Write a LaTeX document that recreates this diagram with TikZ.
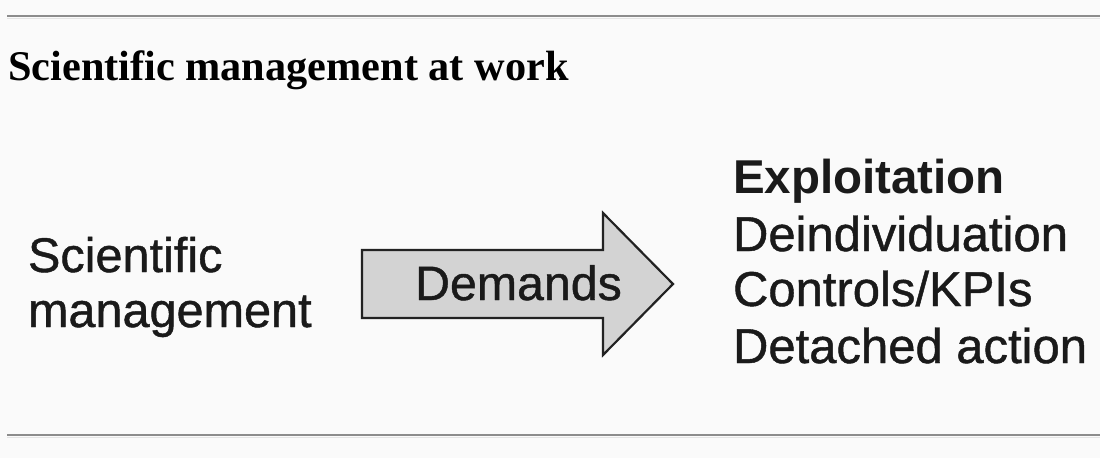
\documentclass[tikz,border=0pt]{standalone}
\usepackage{fontspec}
\setmainfont{Liberation Serif}
\setsansfont{Liberation Sans}
\newfontfamily\heavysans[FakeBold=0.9]{Liberation Sans}
\definecolor{bg}{HTML}{FAFAFA}
\definecolor{rule}{HTML}{8C8C8C}
\definecolor{rulelight}{HTML}{E4E4E4}
\definecolor{ink}{HTML}{1A1A1A}
\definecolor{arrowfill}{HTML}{D3D3D3}
\definecolor{arrowline}{HTML}{222222}
\begin{document}
\begin{tikzpicture}[x=1pt,y=-1pt,
  lbl/.style={inner sep=0pt, outer sep=0pt, text=ink, font=\heavysans\fontsize{49}{56}\selectfont, anchor=base west},
  bigarrow/.style={draw=arrowline, fill=arrowfill, line width=2.2pt, line join=miter},
  hrule/.style={draw=rule, line width=2pt},
  hrulelight/.style={draw=rulelight, line width=1pt}]
\fill[bg] (0,0) rectangle (1100,458);
\useasboundingbox (0,0) rectangle (1100,458);
% rules
\coordinate (t1) at (7,16); \coordinate (t2) at (1100,16);
\coordinate (t3) at (7,18.5); \coordinate (t4) at (1100,18.5);
\coordinate (b1) at (7,435); \coordinate (b2) at (1100,435);
\coordinate (b3) at (7,437.5); \coordinate (b4) at (1100,437.5);
\draw[hrulelight] (t3) -- (t4);
\draw[hrule] (t1) -- (t2);
\draw[hrulelight] (b3) -- (b4);
\draw[hrule] (b1) -- (b2);
% title
\node[inner sep=0pt, anchor=base west, text=black, font=\rmfamily\bfseries\fontsize{42.3}{50}\selectfont] (title) at (8,80) {Scientific management at work};
% left text
\node[lbl, font=\heavysans\fontsize{48.6}{56}\selectfont] (sci) at (28,272) {Scientific};
\node[lbl, font=\heavysans\fontsize{48.6}{56}\selectfont] (mgmt) at (28,327) {management};
% arrow
\draw[bigarrow] (362,250) -- (603,250) -- (603,213) -- (673,284) -- (603,355) -- (603,318) -- (362,318) -- cycle;
\node[lbl, anchor=base, font=\heavysans\fontsize{48.3}{56}\selectfont] (dem) at (518.5,300) {Demands};
% right text
\node[lbl, font=\sffamily\bfseries\fontsize{47.5}{56}\selectfont] (exp) at (733,193) {Exploitation};
\node[lbl] (dein) at (733,251) {Deindividuation};
\node[lbl] (ctrl) at (733,306) {Controls/KPIs};
\node[lbl] (det) at (733,363) {Detached action};
\end{tikzpicture}
\end{document}
